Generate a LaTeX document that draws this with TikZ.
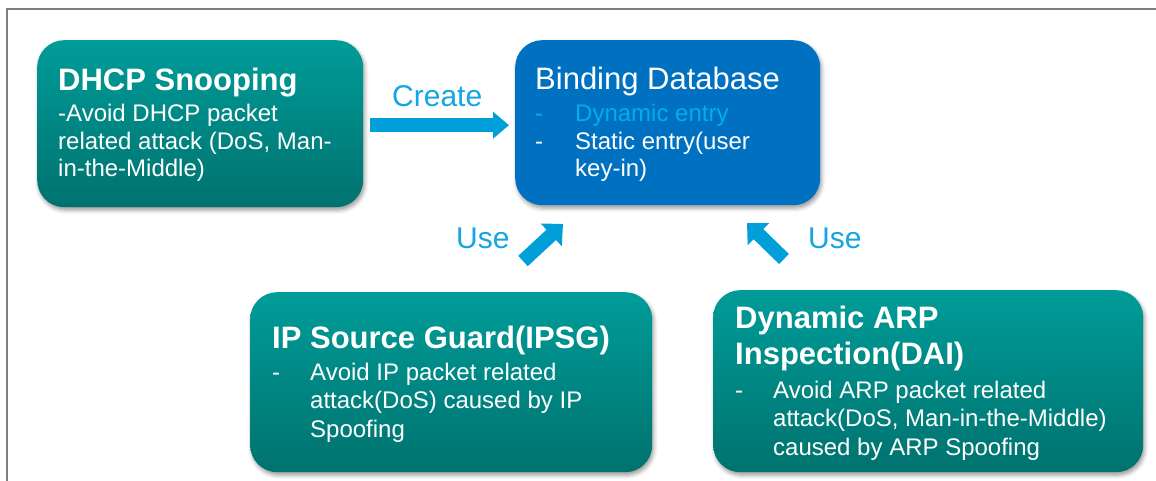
\documentclass[tikz,border=0pt]{standalone}
\usepackage{fontspec}
\setmainfont{Liberation Sans}
\usetikzlibrary{arrows.meta,shadows.blur}
\definecolor{tealtop}{HTML}{009C99}
\definecolor{tealbot}{HTML}{00726E}
\definecolor{dbblue}{HTML}{0070C0}
\definecolor{arrowblue}{HTML}{009FDA}
\definecolor{labelblue}{HTML}{13A6E3}
\definecolor{dynblue}{HTML}{00AEEF}
\definecolor{framegray}{HTML}{7F7F7F}
\tikzset{
  boxbase/.style={rounded corners=27pt, draw=none, anchor=north west, inner sep=0pt,
    blur shadow={shadow xshift=1.5pt, shadow yshift=-3pt, shadow blur radius=4pt, shadow opacity=40}},
  tealbox/.style={boxbase, top color=tealtop, bottom color=tealbot},
  bluebox/.style={boxbase, fill=dbblue},
  bodytxt/.style={anchor=base west, inner sep=0pt, text=white, font=\fontsize{24}{28}\selectfont},
  titletxt/.style={bodytxt, font=\fontsize{31}{37}\selectfont\bfseries},
  dbtitle/.style={bodytxt, font=\fontsize{31}{37}\selectfont},
  lbl/.style={anchor=base west, inner sep=0pt, text=labelblue, font=\fontsize{30}{36}\selectfont},
  blockarrow/.style={draw=arrowblue, line width=14pt, -{Triangle[width=#1, length=16pt, fill=arrowblue]}},
  blockarrow/.default=28pt
}
\begin{document}
\begin{tikzpicture}[x=1pt,y=-1pt]
\useasboundingbox (0,0) rectangle (1156,481);
% frame
\draw[framegray, line width=2pt] (7,481) -- (7,9) -- (1156,9);

% boxes
\node[tealbox, minimum width=326pt, minimum height=167pt] (dhcp) at (37,40) {};
\node[bluebox, minimum width=305pt, minimum height=165pt] (bind) at (515,40) {};
\node[tealbox, minimum width=402pt, minimum height=180pt] (ipsg) at (250,292) {};
\node[tealbox, minimum width=430pt, minimum height=182pt] (dai) at (713,290) {};

% DHCP text
\node[titletxt] (dt) at (58,91) {DHCP Snooping};
\node[bodytxt] (d1) at (58,122) {-Avoid DHCP packet};
\node[bodytxt] (d2) at (58,149.5) {related attack (DoS, Man-};
\node[bodytxt] (d3) at (58,177) {in-the-Middle)};

% Binding text
\node[dbtitle] (bt) at (535,90) {Binding Database};
\node[bodytxt, text=dynblue] (bd1) at (535,122) {-};
\node[bodytxt, text=dynblue] (b1) at (575,122) {Dynamic entry};
\node[bodytxt] (bd2) at (535,150) {-};
\node[bodytxt] (b2) at (575,150) {Static entry(user};
\node[bodytxt] (b3) at (575,177) {key-in)};

% IPSG text
\node[titletxt] (it) at (272,348) {IP Source Guard(IPSG)};
\node[bodytxt] (id1) at (272,380) {-};
\node[bodytxt] (i1) at (310,380) {Avoid IP packet related};
\node[bodytxt] (i2) at (310,408.5) {attack(DoS) caused by IP};
\node[bodytxt] (i3) at (310,437) {Spoofing};

% DAI text
\node[titletxt] (at1) at (735,328) {Dynamic ARP};
\node[titletxt] (at2) at (735,364) {Inspection(DAI)};
\node[bodytxt] (ad1) at (735,398) {-};
\node[bodytxt] (a1) at (773,398) {Avoid ARP packet related};
\node[bodytxt] (a2) at (773,426.5) {attack(DoS, Man-in-the-Middle)};
\node[bodytxt] (a3) at (773,455) {caused by ARP Spoofing};

% arrows
\draw[blockarrow=26pt, shorten <=7pt, shorten >=6pt]
  ([yshift=-1.5pt]dhcp.east) -- ([yshift=-1.5pt]bind.west |- dhcp.east);
\node[lbl] (create) at (392,107) {Create};

\coordinate (u1s) at (523,261);
\coordinate (u1e) at (563,224);
\draw[blockarrow=30pt] (u1s) -- (u1e);
\node[lbl] (use1) at (456,248) {Use};

\coordinate (u2s) at (784,259);
\coordinate (u2e) at (747,223);
\draw[blockarrow=30pt] (u2s) -- (u2e);
\node[lbl] (use2) at (808,248) {Use};
\end{tikzpicture}
\end{document}
